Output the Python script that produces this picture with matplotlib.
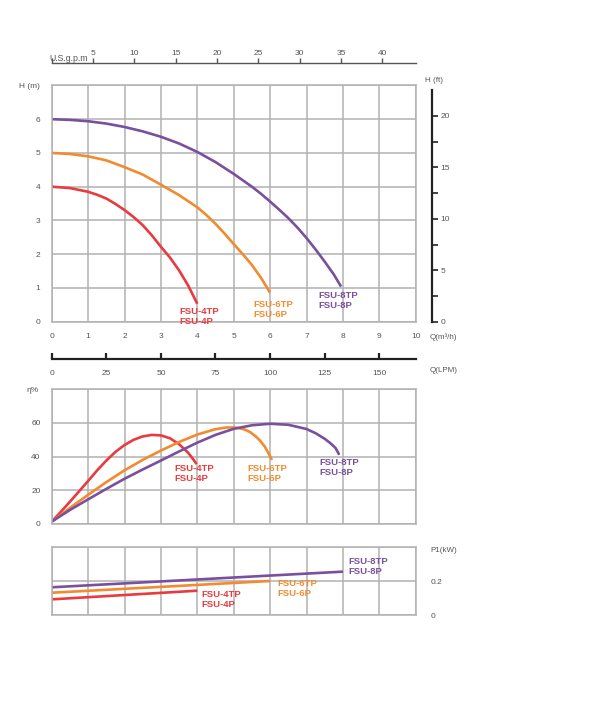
import numpy as np
import matplotlib
matplotlib.use('Agg')
import matplotlib.pyplot as plt

plt.rcParams['font.family'] = ['Liberation Sans', 'DejaVu Sans']

# --- dane ---
modele = ['FSU-4TP\nFSU-4P', 'FSU-6TP\nFSU-6P', 'FSU-8TP\nFSU-8P']
kolory = ['#e83a3f', '#f28a2e', '#7a4f9e']

# krzywe H(Q), Q w m3/h, H w m
q_h4 = [0, 0.5, 1, 1.25, 1.5, 1.75, 2, 2.25, 2.5, 2.75, 3, 3.25, 3.5, 3.75, 4.0]
h_4 = [4.0, 3.96, 3.85, 3.76, 3.65, 3.49, 3.31, 3.1, 2.86, 2.56, 2.22, 1.9,
       1.52, 1.07, 0.53]
q_h6 = [0, 0.5, 1, 1.5, 2, 2.5, 3, 3.5, 4, 4.25, 4.5, 4.75, 5, 5.25, 5.5,
        5.75, 6.0]
h_6 = [5.0, 4.97, 4.9, 4.78, 4.58, 4.36, 4.06, 3.75, 3.39, 3.16, 2.9, 2.61,
       2.3, 2.0, 1.68, 1.3, 0.86]
q_h8 = [0, 0.5, 1, 1.5, 2, 2.5, 3, 3.5, 4, 4.5, 5, 5.5, 5.75, 6, 6.25, 6.5,
        6.75, 7, 7.25, 7.5, 7.75, 7.95]
h_8 = [6.0, 5.98, 5.94, 5.87, 5.77, 5.64, 5.48, 5.28, 5.03, 4.73, 4.38, 4.0,
       3.79, 3.56, 3.32, 3.07, 2.79, 2.48, 2.14, 1.78, 1.4, 1.04]

# sprawnosc eta(Q) w %
q_e4 = [0, 0.25, 0.5, 0.75, 1, 1.25, 1.5, 1.75, 2, 2.25, 2.5, 2.75, 3, 3.25,
        3.5, 3.75, 3.9, 3.98]
e_4 = [1.4, 7.2, 13.2, 19.3, 25.5, 31.8, 37.6, 42.7, 46.8, 49.9, 51.9, 52.8,
       52.5, 50.8, 47.3, 42.2, 38.0, 35.5]
q_e6 = [0, 0.5, 1, 1.5, 2, 2.5, 3, 3.5, 4, 4.5, 4.8, 5, 5.15, 5.3, 5.45, 5.6,
        5.72, 5.85, 5.95, 6.05]
e_6 = [1.4, 9.5, 17.3, 24.8, 31.8, 38.0, 43.5, 48.6, 53.0, 56.2, 57.2, 57.2,
       56.8, 56.0, 54.5, 52.0, 49.5, 46.0, 42.2, 38.0]
q_e8 = [0, 0.5, 1, 1.5, 2, 2.5, 3, 3.5, 4, 4.5, 5, 5.5, 6, 6.5, 7, 7.25, 7.5,
        7.65, 7.8, 7.9]
e_8 = [1.4, 8.3, 14.6, 20.8, 26.8, 32.3, 37.6, 43.0, 48.2, 52.8, 56.4, 58.5,
       59.4, 58.8, 56.3, 53.8, 50.5, 48.0, 45.0, 41.0]

# moc P1(Q) w kW
q_p4 = [0, 4.0]
p_4 = [0.092, 0.143]
q_p6 = [0, 6.0]
p_6 = [0.131, 0.200]
q_p8 = [0, 8.0]
p_8 = [0.163, 0.255]

q_ticks = list(range(0, 11))
h_ticks = list(range(0, 8))
gpm_ticks = [5, 10, 15, 20, 25, 30, 35, 40]
lpm_ticks = [0, 25, 50, 75, 100, 125, 150]
ft_ticks = [0, 5, 10, 15, 20]
eta_ticks = [0, 20, 40, 60, 80]
p_ticks = [0, 0.2, 0.4]

# --- uklad ---
fig = plt.figure(figsize=(6, 7.02), dpi=100)
L = 51.7 / 600
W = 364 / 600


def fy(px):
    return 1 - px / 702


szary = '#b2b2b2'
tekst = '#555555'


def styl(ax):
    for s in ax.spines.values():
        s.set_color(szary)
        s.set_linewidth(1.1)
    ax.grid(True, color=szary, linewidth=1.1)
    ax.set_axisbelow(True)
    ax.tick_params(length=0, labelsize=6, colors=tekst)
    ax.set_xlim(0, 10)
    ax.set_xticks(q_ticks)


def krzywa(ax, q, v, c):
    ax.plot(q, v, color=c, linewidth=1.9, solid_capstyle='butt',
            solid_joinstyle='round')


ax_h = fig.add_axes([L, fy(321.7), W, (321.7 - 85.45) / 702])
ax_e = fig.add_axes([L, fy(524), W, (524 - 389) / 702])
ax_p = fig.add_axes([L, fy(615), W, (615 - 547) / 702])

# wykres H
styl(ax_h)
ax_h.set_ylim(0, 7)
ax_h.set_yticks(h_ticks)
ax_h.set_yticklabels([str(t) if t < 7 else '' for t in h_ticks])
ax_h.tick_params(axis='y', pad=8)
ax_h.tick_params(axis='x', pad=8)
for q, h, c in zip([q_h4, q_h6, q_h8], [h_4, h_6, h_8], kolory):
    krzywa(ax_h, q, h, c)
pos_h = [(3.5, 0.45), (5.53, 0.65), (7.33, 0.92)]
for (x, y), m, c in zip(pos_h, modele, kolory):
    ax_h.text(x, y, m, color=c, fontsize=6.8, fontweight='bold', va='top',
              linespacing=1.15)
fig.text(29 / 600, fy(87), 'H (m)', fontsize=6, color=tekst, ha='center', va='center')
fig.text(430 / 600, fy(337), 'Q(m³/h)', fontsize=5.8, color=tekst, ha='left', va='center')

# wykres sprawnosci
styl(ax_e)
ax_e.set_ylim(0, 80)
ax_e.set_yticks(eta_ticks)
ax_e.set_yticklabels([str(t) if t < 80 else '' for t in eta_ticks])
ax_e.tick_params(axis='y', pad=8)
ax_e.tick_params(axis='x', labelbottom=False)
for q, e, c in zip([q_e4, q_e6, q_e8], [e_4, e_6, e_8], kolory):
    krzywa(ax_e, q, e, c)
pos_e = [(3.36, 35.5), (5.38, 35.5), (7.35, 39.4)]
for (x, y), m, c in zip(pos_e, modele, kolory):
    ax_e.text(x, y, m, color=c, fontsize=6.8, fontweight='bold', va='top',
              linespacing=1.15)
fig.text(33 / 600, fy(390), 'η%', fontsize=6, color=tekst, ha='center', va='center')

# wykres mocy
styl(ax_p)
ax_p.set_ylim(0, 0.4)
ax_p.set_yticks(p_ticks)
ax_p.set_yticklabels(['0', '0.2', ''])
ax_p.yaxis.tick_right()
ax_p.tick_params(axis='y', pad=11)
ax_p.tick_params(axis='x', labelbottom=False)
for q, p, c in zip([q_p4, q_p6, q_p8], [p_4, p_6, p_8], kolory):
    krzywa(ax_p, q, p, c)
pos_p = [(4.1, 0.146), (6.19, 0.21), (8.15, 0.342)]
for (x, y), m, c in zip(pos_p, modele, kolory):
    ax_p.text(x, y, m, color=c, fontsize=6.8, fontweight='bold', va='top',
              linespacing=1.15)
fig.text(430 / 600, fy(550), 'P1(kW)', fontsize=5.8, color=tekst, ha='left', va='center')

# os U.S.g.p.m
ax_g = fig.add_axes([L, fy(63), W, 1e-4])
for s in ['left', 'right', 'top']:
    ax_g.spines[s].set_visible(False)
ax_g.spines['bottom'].set_color('#555555')
ax_g.spines['bottom'].set_linewidth(1.0)
ax_g.set_xlim(0, 44.03)
ax_g.set_yticks([])
ax_g.xaxis.tick_top()
ax_g.set_xticks([0] + gpm_ticks)
ax_g.set_xticklabels([''] + [str(t) for t in gpm_ticks])
ax_g.tick_params(axis='x', direction='out', length=3.5, width=1.0, pad=1,
                 labelsize=6, colors='#555555')
ax_g.text(-0.3, 1.0, 'U.S.g.p.m', transform=ax_g.get_xaxis_transform(),
          fontsize=6.3, color=tekst, ha='left', va='bottom')

# os Q(LPM)
ax_l = fig.add_axes([L, fy(359.3), W, 1e-4])
for s in ['left', 'right', 'top']:
    ax_l.spines[s].set_visible(False)
ax_l.spines['bottom'].set_color('#222222')
ax_l.spines['bottom'].set_linewidth(1.6)
ax_l.set_xlim(0, 166.67)
ax_l.set_yticks([])
ax_l.set_xticks(lpm_ticks)
ax_l.tick_params(axis='x', direction='in', length=4.5, width=1.6, pad=8,
                 labelsize=6, colors='#222222', labelcolor=tekst)
fig.text(430 / 600, fy(371), 'Q(LPM)', fontsize=5.8, color=tekst, ha='left', va='center')

# os H(ft)
ax_f = fig.add_axes([431.7 / 600, fy(321.7), 1e-4, (321.7 - 90) / 702])
for s in ['left', 'bottom', 'top']:
    ax_f.spines[s].set_visible(False)
ax_f.spines['right'].set_color('#222222')
ax_f.spines['right'].set_linewidth(1.6)
ax_f.set_ylim(0, (321.7 - 90) / 33.75 * 3.28084)
ax_f.set_xticks([])
ax_f.yaxis.tick_right()
ax_f.set_yticks(ft_ticks)
ax_f.set_yticks([2.5, 7.5, 12.5, 17.5], minor=True)
ax_f.tick_params(axis='y', which='both', direction='out', length=4.5, width=1.2,
                 pad=2, labelsize=6, colors='#222222', labelcolor=tekst)
fig.text(434 / 600, fy(80), 'H (ft)', fontsize=5.8, color=tekst, ha='center', va='center')

plt.savefig('out.png', dpi=100)
